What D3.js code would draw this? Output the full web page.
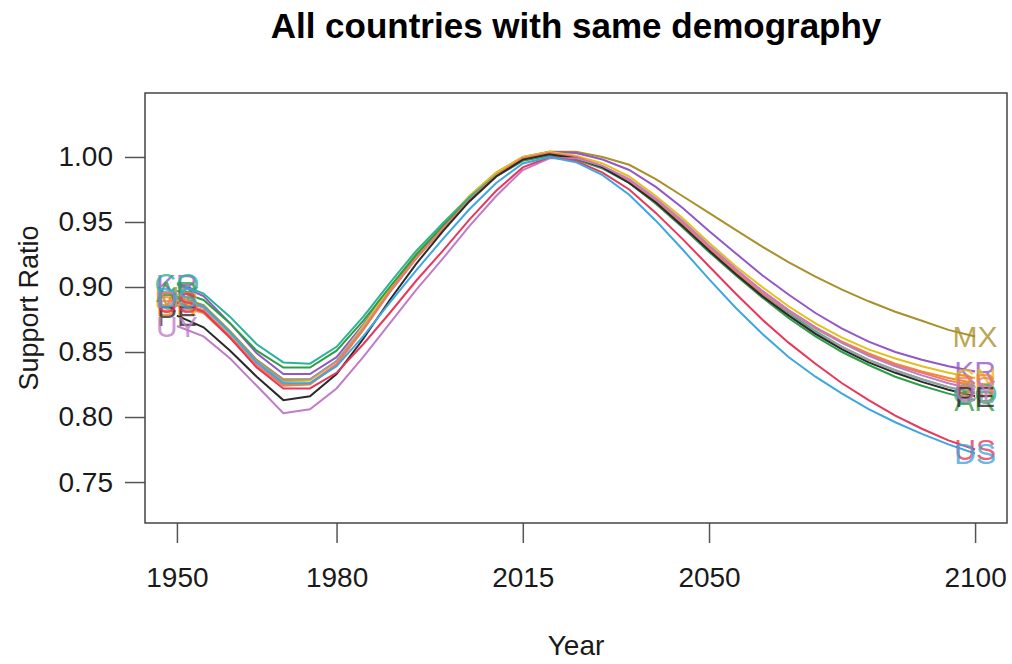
<!DOCTYPE html>
<html>
<head>
<meta charset="utf-8">
<script src="https://cdn.jsdelivr.net/npm/d3@7"></script>
<style>
  html, body { margin: 0; padding: 0; background: #fff; }
  svg { display: block; font-family: "Liberation Sans", Arial, sans-serif; }
</style>
</head>
<body>
<svg id="chart" width="1012" height="664"></svg>
<script>
// Support ratio by country, 1950-2100, every five years
const years = d3.range(1950, 2101, 5);

const countries = ["MX", "KR", "CN", "BR", "CO", "AR", "CL", "ES", "PE", "UY", "US", "DS"];
const colors = ["#a8902a", "#9457c8", "#e3c01e", "#f28a2a", "#2bb39a", "#2e9e45",
                "#9e9e9e", "#f07a6a", "#2a2a2a", "#c07cc8", "#e8385a", "#3fa7df"];

const MX = [0.893,0.886,0.866,0.844,0.829,0.829,0.843,0.869,0.898,0.925,0.948,0.970,0.988,1.000,1.004,1.004,1.000,0.994,0.983,0.970,0.957,0.944,0.931,0.919,0.908,0.898,0.889,0.881,0.874,0.867,0.862];
const KR = [0.902,0.893,0.872,0.849,0.833,0.833,0.846,0.871,0.899,0.925,0.947,0.968,0.986,0.999,1.004,1.003,0.998,0.990,0.977,0.961,0.943,0.926,0.909,0.894,0.880,0.868,0.858,0.850,0.844,0.839,0.835];
const CN = [0.888,0.882,0.863,0.842,0.827,0.828,0.843,0.870,0.899,0.926,0.949,0.970,0.988,1.000,1.004,1.001,0.995,0.985,0.970,0.953,0.934,0.916,0.900,0.885,0.872,0.861,0.852,0.845,0.839,0.834,0.830];
const BR = [0.886,0.880,0.861,0.839,0.824,0.825,0.840,0.867,0.897,0.923,0.946,0.968,0.986,0.999,1.003,1.000,0.993,0.982,0.967,0.950,0.931,0.913,0.897,0.882,0.869,0.858,0.849,0.841,0.835,0.830,0.826];
const CO = [0.903,0.895,0.877,0.856,0.842,0.841,0.854,0.877,0.903,0.928,0.949,0.969,0.986,0.998,1.002,0.999,0.992,0.981,0.966,0.948,0.929,0.911,0.895,0.880,0.866,0.854,0.844,0.836,0.829,0.823,0.818];
const AR = [0.897,0.890,0.872,0.851,0.838,0.838,0.851,0.874,0.900,0.925,0.947,0.967,0.985,0.997,1.001,0.998,0.991,0.980,0.964,0.946,0.927,0.909,0.892,0.876,0.862,0.850,0.840,0.831,0.824,0.818,0.813];
const CL = [0.891,0.884,0.865,0.843,0.828,0.829,0.843,0.868,0.896,0.922,0.945,0.966,0.985,0.998,1.002,0.999,0.992,0.981,0.965,0.947,0.928,0.910,0.893,0.878,0.865,0.854,0.844,0.836,0.829,0.823,0.819];
const ES = [0.889,0.882,0.862,0.840,0.825,0.826,0.841,0.867,0.896,0.922,0.945,0.967,0.986,0.999,1.003,1.000,0.993,0.982,0.967,0.949,0.930,0.912,0.895,0.881,0.868,0.857,0.848,0.840,0.834,0.828,0.824];
const PE = [0.878,0.869,0.851,0.831,0.813,0.816,0.833,0.860,0.890,0.918,0.943,0.966,0.985,0.998,1.002,0.999,0.992,0.980,0.965,0.947,0.928,0.910,0.893,0.878,0.864,0.852,0.842,0.834,0.827,0.821,0.816];
const UY = [0.870,0.862,0.845,0.824,0.803,0.806,0.822,0.846,0.872,0.898,0.922,0.947,0.970,0.990,0.999,0.999,0.993,0.983,0.968,0.951,0.932,0.914,0.897,0.882,0.869,0.857,0.847,0.839,0.832,0.826,0.821];
const US = [0.888,0.881,0.861,0.838,0.822,0.822,0.834,0.856,0.880,0.905,0.928,0.952,0.974,0.992,1.000,0.997,0.988,0.975,0.957,0.937,0.916,0.895,0.875,0.857,0.841,0.826,0.813,0.801,0.791,0.782,0.775];
const DS = [0.892,0.885,0.865,0.842,0.826,0.826,0.839,0.862,0.888,0.913,0.937,0.960,0.980,0.995,1.000,0.996,0.986,0.971,0.951,0.929,0.906,0.884,0.864,0.846,0.831,0.818,0.806,0.796,0.787,0.779,0.772];

const seriesValues = [MX, KR, CN, BR, CO, AR, CL, ES, PE, UY, US, DS];

const xTicks = [1950, 1980, 2015, 2050, 2100];
const yTicks = [0.75, 0.80, 0.85, 0.90, 0.95, 1.00];

const series = countries.map((code, i) => ({
  code, color: colors[i],
  points: years.map((yr, j) => ({ year: yr, value: seriesValues[i][j] }))
}));

const svg = d3.select("#chart");
const box = { left: 145, right: 1007, top: 93, bottom: 523 };

const x = d3.scaleLinear().domain([1944, 2106]).range([box.left, box.right]);
const y = d3.scaleLinear().domain([0.7185, 1.0492]).range([box.bottom, box.top]);

// title
svg.append("text")
  .attr("x", (box.left + box.right) / 2).attr("y", 38)
  .attr("text-anchor", "middle")
  .attr("font-size", 35).attr("font-weight", "bold").attr("fill", "#000")
  .text("All countries with same demography");

// axes
const xAxis = svg.append("g")
  .attr("transform", `translate(0,${box.bottom})`)
  .call(d3.axisBottom(x).tickValues(xTicks).tickFormat(d3.format("d"))
        .tickSize(20).tickSizeOuter(0).tickPadding(24));
xAxis.select(".domain").remove();
xAxis.selectAll(".tick line").attr("stroke", "#555").attr("stroke-width", 1.5);
xAxis.selectAll(".tick text").attr("font-size", 28).attr("fill", "#1a1a1a")
  .attr("font-family", "Liberation Sans, Arial, sans-serif");

const yAxis = svg.append("g")
  .attr("transform", `translate(${box.left},0)`)
  .call(d3.axisLeft(y).tickValues(yTicks).tickFormat(d3.format(".2f"))
        .tickSize(20).tickSizeOuter(0).tickPadding(12));
yAxis.select(".domain").remove();
yAxis.selectAll(".tick line").attr("stroke", "#555").attr("stroke-width", 1.5);
yAxis.selectAll(".tick text").attr("font-size", 28).attr("fill", "#1a1a1a")
  .attr("font-family", "Liberation Sans, Arial, sans-serif");

// axis titles
svg.append("text")
  .attr("x", (box.left + box.right) / 2).attr("y", 655)
  .attr("text-anchor", "middle").attr("font-size", 28).attr("fill", "#1a1a1a")
  .text("Year");
svg.append("text")
  .attr("transform", `translate(38,${(box.top + box.bottom) / 2}) rotate(-90)`)
  .attr("text-anchor", "middle").attr("font-size", 27).attr("fill", "#1a1a1a")
  .text("Support Ratio");

// lines
const line = d3.line().x(d => x(d.year)).y(d => y(d.value));
svg.append("g").selectAll("path")
  .data(series).join("path")
  .attr("d", d => line(d.points))
  .attr("fill", "none")
  .attr("stroke", d => d.color)
  .attr("stroke-width", 2);

// country codes at both ends of each line
const labels = svg.append("g").attr("font-size", 30).attr("text-anchor", "middle");
series.forEach(s => {
  [s.points[0], s.points[s.points.length - 1]].forEach(p => {
    labels.append("text")
      .attr("x", x(p.year)).attr("y", y(p.value))
      .attr("dy", "0.36em")
      .attr("fill", s.color).attr("fill-opacity", 0.8)
      .text(s.code);
  });
});

// plot frame
svg.append("rect")
  .attr("x", box.left).attr("y", box.top)
  .attr("width", box.right - box.left).attr("height", box.bottom - box.top)
  .attr("fill", "none").attr("stroke", "#444").attr("stroke-width", 1.5);
</script>
</body>
</html>
